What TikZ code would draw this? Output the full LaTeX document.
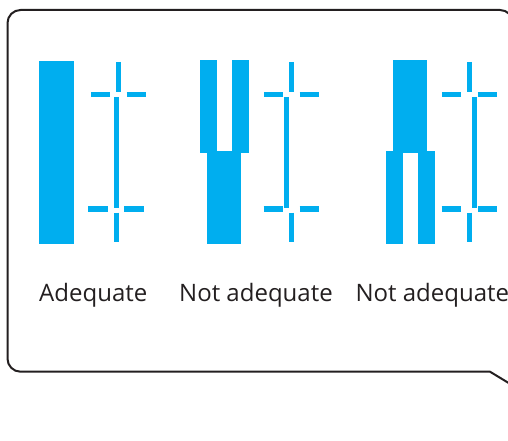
\documentclass[tikz,border=0pt]{standalone}
\usepackage{fontspec}
\setmainfont{Open Sans}
\usepackage{xcolor}
\usetikzlibrary{positioning}
\definecolor{gaugecyan}{HTML}{00AEEF}
\definecolor{inkgray}{HTML}{231F20}
\tikzset{
  bubble/.style={draw=inkgray, line width=2pt, line join=round},
  bar/.style={fill=gaugecyan, draw=none},
  tickline/.style={draw=gaugecyan, line width=5.3pt},
  stemline/.style={draw=gaugecyan, line width=5pt},
  caption/.style={anchor=base west, inner sep=0pt, text=inkgray,
                  font=\fontsize{24}{28}\selectfont},
}

\begin{document}
\begin{tikzpicture}[x=1pt, y=-1pt]
  \useasboundingbox (0,0) rectangle (508,441);
  % speech bubble
  \draw[bubble] (526,393.5) -- (490,371.7) -- (200,371.7) [rounded corners=13pt]
        -- (7.5,371.7) -- (7.5,10) -- (513,10) -- (513,80);
  % plugs
  \fill[bar] (39,61) rectangle (74,243.7);
  \fill[bar] (200.3,60) rectangle (217,152.7);
  \fill[bar] (232,60) rectangle (249,152.7);
  \fill[bar] (207,150.7) rectangle (241,243.7);
  \fill[bar] (393,60) rectangle (427,152.7);
  \fill[bar] (386,150.7) rectangle (403,243.7);
  \fill[bar] (418,150.7) rectangle (435,243.7);
  % gauges: top centre / bottom centre / middle stem
  \foreach \ct/\cb/\cm in {118.8/116.2/116.2, 291.7/291.7/286, 469.7/469.7/474.7}{
    \draw[stemline] (\ct,62) -- (\ct,91.7);
    \draw[tickline] (\ct-27.9,94.5) -- (\ct-8.7,94.5);
    \draw[tickline] (\ct+7.8,94.5) -- (\ct+27.3,94.5);
    \draw[stemline] (\cm,97) -- (\cm,207.7);
    \draw[tickline] (\cb-28,209) -- (\cb-8.7,209);
    \draw[tickline] (\cb+7.8,209) -- (\cb+27.3,209);
    \draw[stemline] (\cb,212.5) -- (\cb,242);
  }
  % captions
  \node[caption] (lblA) at (39,301.7) {Adequate};
  \node[caption] (lblB) at (179,301.7) {Not adequate};
  \node[caption] (lblC) at (355.3,301.7) {Not adequate};
\end{tikzpicture}
\end{document}
